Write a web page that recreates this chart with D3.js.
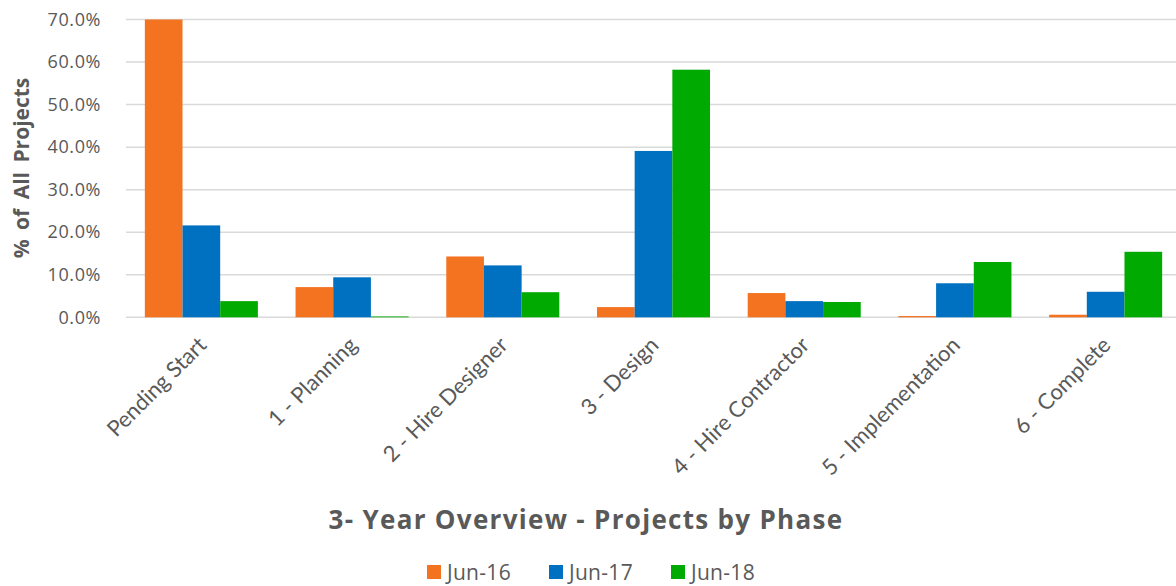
<!DOCTYPE html>
<html>
<head>
<meta charset="utf-8">
<script src="https://cdn.jsdelivr.net/npm/d3@7"></script>
<style>
  body { margin: 0; background: #fff; }
  svg text { fill: #595959; }
</style>
</head>
<body>
<svg id="chart" width="1176" height="586"></svg>
<script>
var phases = ["Pending Start", "1 - Planning", "2 - Hire Designer", "3 - Design",
              "4 - Hire Contractor", "5 - Implementation", "6 - Complete"];
var seriesNames = ["Jun-16", "Jun-17", "Jun-18"];
var jun16 = [0.700, 0.071, 0.143, 0.024, 0.057, 0.003, 0.006];
var jun17 = [0.216, 0.094, 0.122, 0.391, 0.038, 0.080, 0.060];
var jun18 = [0.038, 0.002, 0.059, 0.582, 0.036, 0.130, 0.154];
var yTicks = [0, 0.1, 0.2, 0.3, 0.4, 0.5, 0.6, 0.7];
var colors = ["#f47321", "#0070c0", "#00aa00"];

var series = [jun16, jun17, jun18];
var svg = d3.select("#chart");
var plotLeft = 126, plotRight = 1181, plotTop = 19.5, plotBottom = 317.3;

var x = d3.scaleBand().domain(phases).range([plotLeft, plotRight]).paddingInner(0.25).paddingOuter(0.125);
var xs = d3.scaleBand().domain(seriesNames).range([0, x.bandwidth()]);
var y = d3.scaleLinear().domain([0, 0.7]).range([plotBottom, plotTop]);

// gridlines
svg.append("g").selectAll("line")
  .data(yTicks)
  .enter().append("line")
  .attr("x1", plotLeft).attr("x2", 1176)
  .attr("y1", function(d){ return y(d); })
  .attr("y2", function(d){ return y(d); })
  .attr("stroke", "#d9d9d9").attr("stroke-width", 1.5);

// y axis labels
var yAxis = d3.axisLeft(y).tickValues(yTicks).tickFormat(d3.format(".1%")).tickSize(0).tickPadding(0);
var ya = svg.append("g").attr("transform", "translate(101,0)").call(yAxis);
ya.select(".domain").remove();
ya.selectAll("text")
  .style("font-family", "'Open Sans', sans-serif")
  .style("font-size", "18px")
  .style("letter-spacing", "0.6px")
  .attr("fill", "#595959");

// bars
series.forEach(function(vals, si){
  svg.append("g").selectAll("rect")
    .data(vals)
    .enter().append("rect")
    .attr("x", function(d, i){ return x(phases[i]) + xs(seriesNames[si]); })
    .attr("width", xs.bandwidth())
    .attr("y", function(d){ return y(d); })
    .attr("height", function(d){ return y(0) - y(d); })
    .attr("fill", colors[si]);
});

// category labels
svg.append("g").selectAll("text")
  .data(phases)
  .enter().append("text")
  .attr("transform", function(d){
    return "translate(" + (x(d) + x.bandwidth()/2 + 1) + ",341) rotate(-45)";
  })
  .attr("text-anchor", "end")
  .attr("dy", "0.35em")
  .style("font-family", "Lato, sans-serif")
  .style("font-size", "22px")
  .text(function(d){ return d; });

// y title
svg.append("text")
  .attr("transform", "translate(29,168) rotate(-90)")
  .attr("text-anchor", "middle")
  .style("font-family", "'Open Sans', sans-serif")
  .style("font-size", "21px")
  .style("font-weight", "bold")
  .style("word-spacing", "4px")
  .text("% of All Projects");

// chart title
svg.append("text")
  .attr("x", 586).attr("y", 529)
  .attr("text-anchor", "middle")
  .style("font-family", "'Open Sans', sans-serif")
  .style("font-size", "26px")
  .style("font-weight", "bold")
  .style("letter-spacing", "1.3px")
  .text("3- Year Overview - Projects by Phase");

// legend
var legend = svg.append("g").selectAll("g")
  .data(seriesNames)
  .enter().append("g")
  .attr("transform", function(d, i){ return "translate(" + (427 + i*122) + ",565)"; });
legend.append("rect").attr("width", 14).attr("height", 14)
  .attr("fill", function(d, i){ return colors[i]; });
legend.append("text")
  .attr("x", 20).attr("y", 7).attr("dy", "0.36em")
  .style("font-family", "'Open Sans', sans-serif")
  .style("font-size", "21px")
  .style("letter-spacing", "0.3px")
  .text(function(d){ return d; });
</script>
</body>
</html>
